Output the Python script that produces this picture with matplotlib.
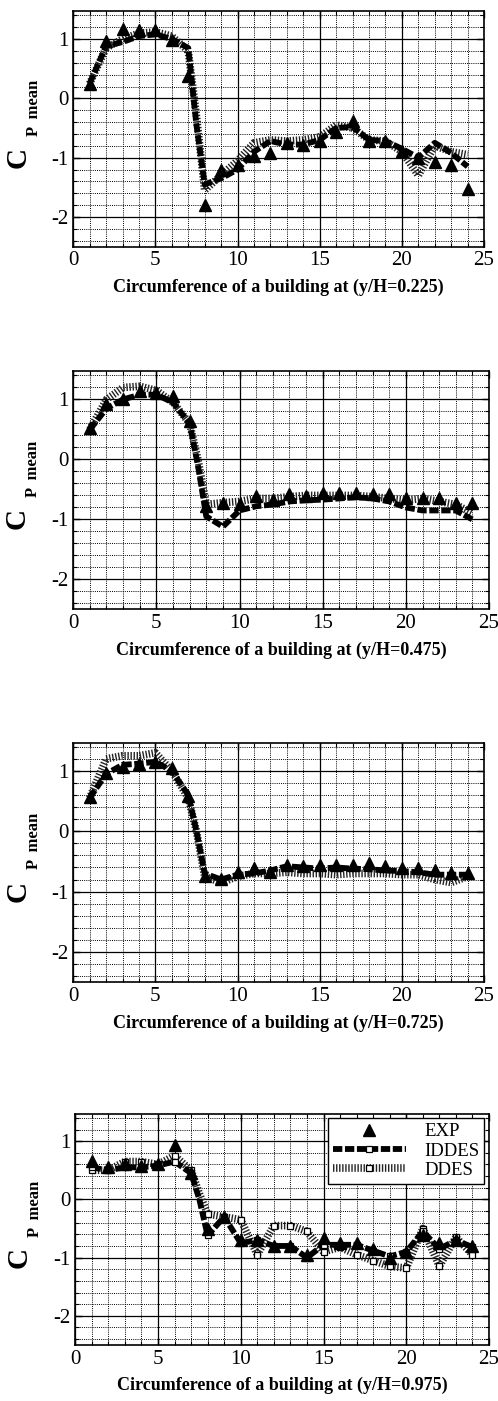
import numpy as np
import matplotlib
matplotlib.use('Agg')
import matplotlib.pyplot as plt
from matplotlib.ticker import MultipleLocator

# フォント設定 (Times 風)
plt.rcParams['font.family'] = ['Liberation Serif', 'DejaVu Serif']
plt.rcParams['axes.unicode_minus'] = False

# 測定点 (建物周囲の位置)
x_exp = list(range(1, 25))
x_sim = [1, 2, 3, 4, 5, 6, 7, 7.5, 8, 9, 10, 11, 12, 13, 14, 15, 16, 17, 18, 19, 20, 21, 22, 23, 24]

# y/H = 0.225
exp1 = [0.25, 0.97, 1.17, 1.15, 1.15, 0.98, 0.37, -1.80, -1.20, -1.12, -0.97, -0.92,
        -0.76, -0.78, -0.72, -0.56, -0.39, -0.72, -0.72, -0.89, -1.00, -1.08, -1.12, -1.53]
iddes1 = [0.25, 0.88, 0.95, 1.05, 1.08, 1.00, 0.85, -0.45, -1.45, -1.35, -1.20, -0.90, -0.72,
          -0.78, -0.78, -0.70, -0.50, -0.48, -0.70, -0.72, -0.85, -1.00, -0.75, -0.92, -1.15]
ddes1 = [0.25, 0.85, 1.00, 1.10, 1.12, 1.05, 0.80, -0.30, -1.55, -1.30, -1.05, -0.75, -0.70,
         -0.72, -0.70, -0.65, -0.45, -0.50, -0.70, -0.72, -0.90, -1.30, -0.80, -0.90, -0.95]

# y/H = 0.475
exp2 = [0.53, 0.92, 1.00, 1.14, 1.11, 1.05, 0.64, -0.78, -0.73, -0.75, -0.61, -0.67,
        -0.58, -0.61, -0.56, -0.56, -0.56, -0.57, -0.57, -0.64, -0.64, -0.64, -0.72, -0.72]
iddes2 = [0.50, 0.85, 1.00, 1.08, 1.08, 0.95, 0.60, -0.10, -0.95, -1.12, -0.85, -0.78, -0.75,
          -0.70, -0.68, -0.67, -0.65, -0.63, -0.65, -0.70, -0.80, -0.85, -0.85, -0.85, -1.00]
ddes2 = [0.50, 1.00, 1.20, 1.22, 1.15, 0.95, 0.60, 0.00, -0.75, -0.72, -0.70, -0.65, -0.65,
         -0.62, -0.60, -0.60, -0.60, -0.60, -0.62, -0.65, -0.68, -0.65, -0.70, -0.75, -0.90]

# y/H = 0.725
exp3 = [0.56, 0.97, 1.06, 1.11, 1.14, 1.04, 0.58, -0.75, -0.79, -0.68, -0.61, -0.67,
        -0.56, -0.58, -0.56, -0.56, -0.56, -0.53, -0.58, -0.61, -0.61, -0.64, -0.69, -0.69]
iddes3 = [0.55, 0.95, 1.10, 1.12, 1.15, 1.00, 0.60, 0.00, -0.70, -0.80, -0.72, -0.70, -0.65,
          -0.58, -0.60, -0.62, -0.60, -0.62, -0.63, -0.65, -0.66, -0.68, -0.72, -0.72, -0.72]
ddes3 = [0.55, 1.20, 1.25, 1.25, 1.30, 1.00, 0.55, 0.00, -0.75, -0.85, -0.75, -0.70, -0.70,
         -0.68, -0.70, -0.70, -0.72, -0.70, -0.70, -0.70, -0.72, -0.72, -0.80, -0.85, -0.75]

# y/H = 0.975
exp4 = [0.66, 0.55, 0.60, 0.58, 0.60, 0.94, 0.45, -0.50, -0.30, -0.70, -0.70, -0.80,
        -0.80, -0.95, -0.67, -0.75, -0.75, -0.85, -1.00, -0.90, -0.61, -0.75, -0.70, -0.80]
iddes4 = [0.55, 0.50, 0.55, 0.55, 0.58, 0.65, 0.45, 0.00, -0.62, -0.30, -0.75, -0.70, -0.80,
          -0.80, -1.00, -0.78, -0.78, -0.78, -0.88, -0.98, -0.90, -0.55, -0.85, -0.70, -0.82]
ddes4 = [0.50, 0.50, 0.65, 0.65, 0.60, 0.75, 0.50, 0.10, -0.25, -0.30, -0.35, -0.95, -0.45,
         -0.45, -0.55, -0.90, -0.82, -0.95, -1.05, -1.15, -1.18, -0.50, -1.15, -0.65, -0.95]

heights = ['0.225', '0.475', '0.725', '0.975']
panels = [(exp1, iddes1, ddes1), (exp2, iddes2, ddes2), (exp3, iddes3, ddes3), (exp4, iddes4, ddes4)]

# 各パネルの位置 [left, bottom, width, height] (figure fraction)
positions = [
    [0.147, 0.824, 0.825, 0.168],
    [0.147, 0.565, 0.835, 0.170],
    [0.147, 0.299, 0.825, 0.171],
    [0.151, 0.040, 0.831, 0.165],
]

fig = plt.figure(figsize=(4.98, 14.01), dpi=100)

# 整数位置以外 (7.5) にはマーカーを付けない
mark_idx = [i for i, v in enumerate(x_sim) if float(v).is_integer()]

for i, (exp, iddes, ddes) in enumerate(panels):
    ax = fig.add_axes(positions[i])
    mk = 's' if i == 3 else 'None'

    ax.plot(x_sim, ddes, color='#222222', lw=5.5, dashes=(0.18, 0.22), solid_capstyle='butt',
            dash_capstyle='butt', marker=mk, markevery=mark_idx, markersize=5,
            markerfacecolor='white', markeredgecolor='black', markeredgewidth=0.9,
            label='DDES', zorder=3)
    ax.plot(x_sim, iddes, color='black', lw=4.2, dashes=(1.6, 0.45), dash_capstyle='butt',
            marker=mk, markevery=mark_idx, markersize=5,
            markerfacecolor='white', markeredgecolor='black', markeredgewidth=0.9,
            label='IDDES', zorder=4)
    ax.plot(x_exp, exp, linestyle='None', marker='^', markersize=9, color='black',
            label='EXP', zorder=5)

    ax.set_xlim(0, 25)
    ax.set_ylim(-2.5, 1.47)
    ax.xaxis.set_major_locator(MultipleLocator(5))
    ax.xaxis.set_minor_locator(MultipleLocator(1))
    ax.yaxis.set_major_locator(MultipleLocator(1))
    ax.yaxis.set_minor_locator(MultipleLocator(0.2))
    ax.grid(True, which='major', color='black', lw=0.9, linestyle='-')
    ax.grid(True, which='minor', color='black', lw=0.7, linestyle=(0, (1, 1.2)))
    ax.set_axisbelow(True)
    ax.tick_params(which='both', direction='in', top=True, right=True, labelsize=15)
    ax.tick_params(which='major', length=5, width=1)
    ax.tick_params(which='minor', length=3, width=0.8)
    for sp in ax.spines.values():
        sp.set_linewidth(1.2)

    ax.set_xlabel('Circumference of a building at (y/H=%s)' % heights[i],
                  fontsize=13, fontweight='bold', labelpad=6)

    # 縦軸ラベル C_P mean (大きい C と小さい添字)
    ax.text(-0.135, 0.38, 'C', rotation=90, fontsize=21, fontweight='bold',
            ha='center', va='center', transform=ax.transAxes)
    ax.text(-0.096, 0.59, 'P  mean', rotation=90, fontsize=12, fontweight='bold',
            ha='center', va='center', transform=ax.transAxes)

    if i == 3:
        # 凡例 (EXP, IDDES, DDES の順)
        h, l = ax.get_legend_handles_labels()
        ax.legend([h[2], h[1], h[0]], [l[2], l[1], l[0]], loc='upper right',
                  fontsize=13.5, numpoints=1, handlelength=3.9, handletextpad=1.0,
                  borderpad=0.25, labelspacing=0.12, frameon=True, fancybox=False,
                  edgecolor='black', framealpha=1, borderaxespad=0.25)

plt.savefig('out.png', dpi=100)
